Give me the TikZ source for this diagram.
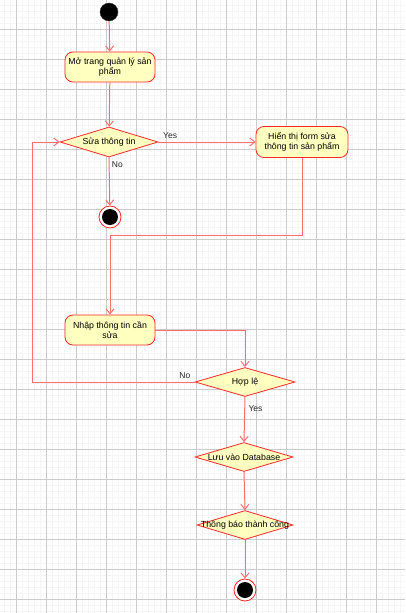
\documentclass[tikz,border=0pt]{standalone}
\usepackage{fontspec}
\setmainfont{Liberation Sans}
\usetikzlibrary{shapes.geometric,arrows.meta}
\definecolor{flowline}{RGB}{255,110,110}
\definecolor{shapeedge}{RGB}{255,40,40}
\definecolor{shapefill}{RGB}{255,255,192}
\tikzset{
  actbox/.style={draw=shapeedge, fill=shapefill, rounded corners=8pt, thick,
    minimum width=90pt, minimum height=30pt, align=center, inner sep=1pt,
    font=\fontsize{8.8}{9.8}\selectfont},
  decision/.style={diamond, draw=shapeedge, fill=shapefill, thick, inner sep=0pt,
    minimum width=98pt, minimum height=30pt, font=\fontsize{8.8}{9.8}\selectfont},
  startdot/.style={circle, fill=black, draw=black!80, minimum size=18pt, inner sep=0pt},
  enddot/.style={circle, draw=shapeedge, fill=white, thick, minimum size=22pt, inner sep=0pt,
    path picture={\fill[black] (path picture bounding box.center) circle (8pt);}},
  flow/.style={draw=flowline, line width=1pt, -{Straight Barb[length=5pt,width=8pt]}},
  guard/.style={font=\fontsize{8.5}{9.5}\selectfont, text=black!85}
}
\begin{document}
\begin{tikzpicture}[x=1pt, y=-1pt]
\useasboundingbox (0,0) rectangle (405,613);
% background grid
\foreach \x in {4,10,...,404} \draw[black!4, line width=0.4pt] (\x,0) -- (\x,613);
\foreach \y in {5,11,...,611} \draw[black!4, line width=0.4pt] (0,\y) -- (405,\y);
\foreach \x in {16,46,...,406} \draw[black!20, line width=0.5pt] (\x,0) -- (\x,613);
\foreach \y in {29,59,...,599} \draw[black!20, line width=0.5pt] (0,\y) -- (405,\y);

% activities
\node[startdot] (start) at (109,12) {};
\node[actbox] (open) at (110,67) {Mở trang quản lý sản\\phẩm};
\node[decision] (ask) at (109,142) {\makebox[0pt]{Sửa thông tin}};
\node[actbox, minimum width=92pt, minimum height=31pt] (showform) at (302,142) {Hiển thị form sửa\\thông tin sản phẩm};
\node[enddot] (end1) at (110,217) {};
\node[actbox] (input) at (110,330) {Nhập thông tin cần\\sửa};
\node[decision, minimum width=100pt, minimum height=29pt] (valid) at (245,382) {\makebox[0pt]{Hợp lệ}};
\node[decision, minimum height=29pt] (save) at (244,457) {\makebox[0pt]{Lưu vào Database}};
\node[decision, minimum width=96pt, minimum height=29pt] (notify) at (245,525) {\makebox[0pt]{Thông báo thành công}};
\node[enddot] (end2) at (245,590) {};
\coordinate (loop) at (32,382);

% transitions
\draw[flow] (start) -- (open);
\draw[flow] (open) -- (ask);
\draw[flow] (ask.east) -- node[guard, pos=0.12, above] {Yes} (showform.west);
\draw[flow] (ask.south) -- node[guard, pos=0.15, right=-1pt] {No} (end1);
\draw[flow] (showform.south) -- ++(0,78) -| (input.north);
\draw[flow] (input.east) -| (valid.north);
\draw[flow] (valid.west) -- node[guard, pos=0.06, above] {No} (loop) |- (ask.west);
\draw[flow] (valid.south) -- node[guard, pos=0.25, right] {Yes} (save.north);
\draw[flow] (save.south) -- (notify.north);
\draw[flow] (notify.south) -- (end2);
\end{tikzpicture}
\end{document}
